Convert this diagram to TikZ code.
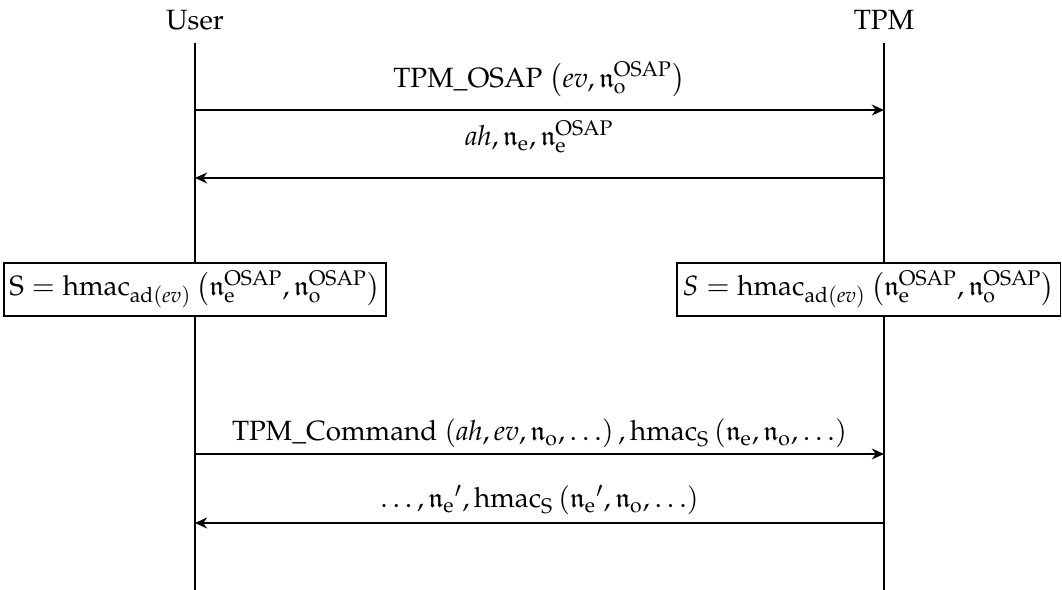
\documentclass[tikz,border=0pt]{standalone}
\usepackage[T1]{fontenc}
\usepackage{amsmath}
\usepackage{amssymb}
\usepackage{mathpazo}
\usetikzlibrary{arrows.meta}
\tikzset{
  lifeline/.style={line width=0.75pt},
  msg/.style={line width=0.75pt,-{Stealth[length=5pt,width=4.5pt,inset=1.6pt]}},
  lbl/.style={anchor=base,inner sep=0pt},
  calc box/.style={draw,fill=white,line width=0.75pt,inner ysep=3.2pt,inner xsep=2.2pt},
  actor/.style={anchor=base,inner sep=0pt}
}
\newcommand{\OS}{\text{OSAP}}
\newcommand{\nn}{\mathfrak{n}}
\newcommand{\se}{\mathrm{e}}
\newcommand{\so}{\mathrm{o}}
\begin{document}
\begin{tikzpicture}[font=\fontsize{11.5}{14}\selectfont]
\useasboundingbox (0,0) rectangle (15.414,-8.563);
% actors
\node[actor] (user) at (2.830,-0.435) {User};
\node[actor] (tpm) at (12.830,-0.435) {TPM};
\coordinate (utop) at (2.830,-0.624);
\coordinate (ubot) at (2.830,-8.563);
\coordinate (ttop) at (12.830,-0.624);
\coordinate (tbot) at (12.830,-8.563);
\draw[lifeline] (utop) -- (ubot);
\draw[lifeline] (ttop) -- (tbot);
% message 1
\coordinate (u1) at (2.830,-1.597);
\coordinate (t1) at (12.830,-1.597);
\draw[msg] (u1) -- (t1);
\node[lbl] (l1) at (7.830,-1.263) {TPM\_OSAP $\bigl(\textit{ev}, \nn_\so^{\OS}\bigr)$};
% message 2
\coordinate (u2) at (2.830,-2.583);
\coordinate (t2) at (12.830,-2.583);
\draw[msg] (t2) -- (u2);
\node[lbl] (l2) at (7.830,-2.119) {$\textit{ah}, \nn_\se, \nn_\se^{\OS}$};
% computation boxes
\node[calc box] (ubox) at (2.830,-4.202) {$\mathrm{S} = \mathrm{hmac}_{\mathrm{ad}(\textit{ev})}\,\bigl(\nn_\se^{\OS}, \nn_\so^{\OS}\bigr)$};
\node[calc box,anchor=east] (tbox) at (15.404,-4.202) {$S = \mathrm{hmac}_{\mathrm{ad}(\textit{ev})}\,\bigl(\nn_\se^{\OS}, \nn_\so^{\OS}\bigr)$};
% message 3
\coordinate (u3) at (2.830,-6.589);
\coordinate (t3) at (12.830,-6.589);
\draw[msg] (u3) -- (t3);
\node[lbl] (l3) at (7.830,-6.400) {TPM\_Command $(\textit{ah}, \textit{ev}, \nn_\so, \ldots)\,, \mathrm{hmac}_\mathrm{S}\,(\nn_\se, \nn_\so, \ldots)$};
% message 4
\coordinate (u4) at (2.830,-7.591);
\coordinate (t4) at (12.830,-7.591);
\draw[msg] (t4) -- (u4);
\node[lbl] (l4) at (7.830,-7.373) {$\ldots, {\nn_\se}', \mathrm{hmac}_\mathrm{S}\,({\nn_\se}', \nn_\so, \ldots)$};
\end{tikzpicture}
\end{document}
